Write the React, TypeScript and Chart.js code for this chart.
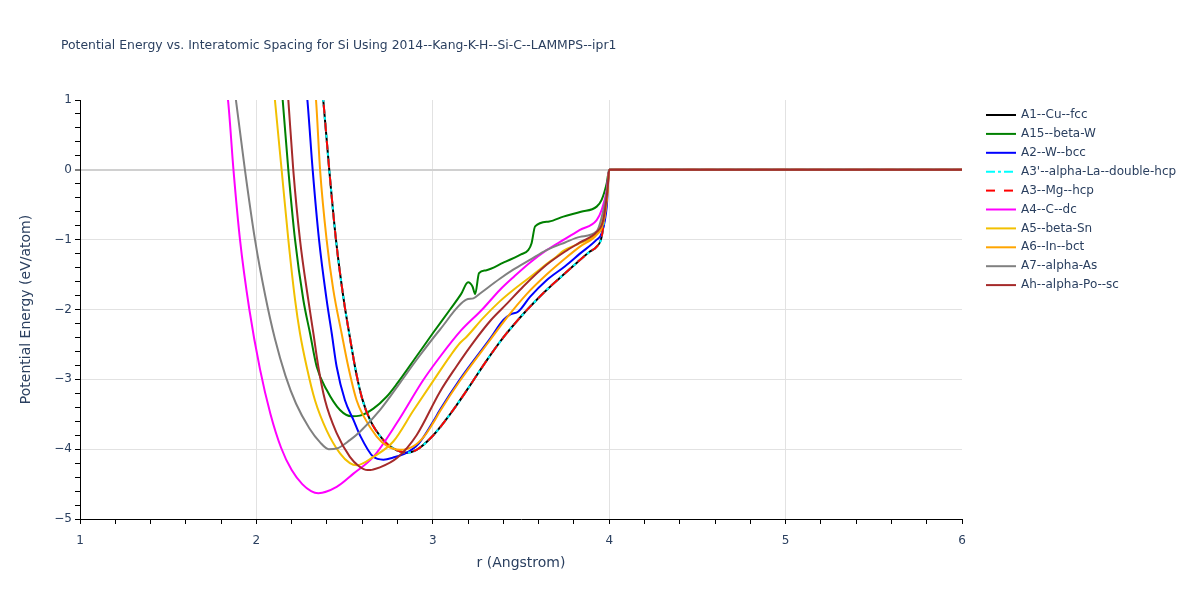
import React, { useEffect, useRef } from "react";
import { Chart, registerables } from "chart.js";

Chart.register(...registerables);

const FONT = '"DejaVu Sans", Verdana, sans-serif';
const TEXT = "#2a3f5f";

const titleText = "Potential Energy vs. Interatomic Spacing for Si Using 2014--Kang-K-H--Si-C--LAMMPS--ipr1";
const xTitle = "r (Angstrom)";
const yTitle = "Potential Energy (eV/atom)";

const seriesNames = [
  "A1--Cu--fcc",
  "A15--beta-W",
  "A2--W--bcc",
  "A3'--alpha-La--double-hcp",
  "A3--Mg--hcp",
  "A4--C--dc",
  "A5--beta-Sn",
  "A6--In--bct",
  "A7--alpha-As",
  "Ah--alpha-Po--sc",
];
const seriesColors = ["#000000", "#008000", "#0000ff", "#00ffff", "#ff0000", "#ff00ff", "#f2c000", "#ffa500", "#808080", "#a52a2a"];
const seriesDash = [[], [], [], [9, 3, 3, 3], [9, 9], [], [], [], [], []];

// close-packed structures (A1, A3', A3 coincide)
const cpR = [2.35, 2.379, 2.413, 2.451, 2.495, 2.53, 2.565, 2.6, 2.644, 2.72, 2.776, 2.852, 2.908, 3.003, 3.098, 3.2, 3.3, 3.4, 3.5, 3.57, 3.645, 3.759, 3.834, 3.891, 3.929, 3.957, 3.986, 4.0, 6.0];
const cpE = [1.7, 1.0, 0.0, -1.0, -1.86, -2.4, -2.9, -3.28, -3.58, -3.87, -3.99, -4.05, -4.01, -3.8, -3.5, -3.13, -2.75, -2.4, -2.1, -1.91, -1.72, -1.46, -1.29, -1.17, -1.1, -0.96, -0.39, 0, 0];

const a15R = [2.12, 2.149, 2.181, 2.219, 2.266, 2.304, 2.342, 2.398, 2.474, 2.54, 2.587, 2.663, 2.738, 2.795, 2.908, 3.003, 3.098, 3.16, 3.2, 3.225, 3.24, 3.262, 3.3, 3.4, 3.5, 3.541, 3.56, 3.58, 3.66, 3.74, 3.84, 3.929, 3.957, 3.986, 4.0, 6.0];
const a15E = [1.8, 1.0, 0.0, -1.0, -1.86, -2.34, -2.82, -3.15, -3.44, -3.53, -3.52, -3.42, -3.25, -3.07, -2.67, -2.33, -2.0, -1.78, -1.61, -1.67, -1.78, -1.48, -1.44, -1.33, -1.21, -1.15, -1.05, -0.81, -0.74, -0.67, -0.6, -0.527, -0.43, -0.19, 0, 0];

const a2R = [2.26, 2.289, 2.319, 2.355, 2.398, 2.427, 2.455, 2.502, 2.55, 2.587, 2.663, 2.72, 2.776, 2.852, 2.92, 3.003, 3.04, 3.154, 3.324, 3.4, 3.44, 3.485, 3.551, 3.645, 3.75, 3.834, 3.929, 3.957, 3.986, 4.0, 6.0];
const a2E = [1.7, 1.0, 0.0, -1.0, -1.86, -2.34, -2.82, -3.3, -3.58, -3.8, -4.11, -4.15, -4.12, -4.05, -3.92, -3.6, -3.44, -3.0, -2.42, -2.15, -2.07, -2.03, -1.82, -1.58, -1.38, -1.2, -1.0, -0.91, -0.53, 0, 0];

const a4R = [1.8, 1.839, 1.87, 1.907, 1.96, 2.02, 2.08, 2.14, 2.2, 2.26, 2.31, 2.351, 2.455, 2.55, 2.663, 2.795, 2.946, 3.04, 3.16, 3.28, 3.38, 3.46, 3.55, 3.645, 3.75, 3.834, 3.929, 3.957, 3.986, 4.0, 6.0];
const a4E = [1.6, 1.0, 0.0, -1.0, -2.0, -2.85, -3.5, -3.98, -4.3, -4.5, -4.6, -4.63, -4.54, -4.35, -4.11, -3.63, -3.01, -2.68, -2.3, -2.0, -1.72, -1.53, -1.33, -1.15, -0.99, -0.86, -0.72, -0.575, -0.29, 0, 0];

const a5R = [2.08, 2.105, 2.143, 2.181, 2.219, 2.247, 2.285, 2.332, 2.398, 2.474, 2.53, 2.57, 2.663, 2.776, 2.889, 3.003, 3.1, 3.154, 3.192, 3.286, 3.381, 3.456, 3.57, 3.65, 3.702, 3.74, 3.834, 3.929, 3.965, 3.99, 4.0, 6.0];
const a5E = [1.7, 1.0, 0.0, -1.0, -1.86, -2.34, -2.82, -3.3, -3.73, -4.06, -4.2, -4.23, -4.11, -3.89, -3.45, -3.02, -2.66, -2.48, -2.39, -2.12, -1.88, -1.72, -1.5, -1.34, -1.24, -1.16, -1.05, -0.91, -0.7, -0.3, 0, 0];

const a6R = [2.31, 2.338, 2.361, 2.398, 2.436, 2.483, 2.521, 2.568, 2.606, 2.682, 2.738, 2.814, 2.889, 2.95, 3.003, 3.04, 3.154, 3.324, 3.419, 3.532, 3.645, 3.75, 3.834, 3.929, 3.966, 3.99, 4.0, 6.0];
const a6E = [1.7, 1.0, 0.0, -1.0, -1.72, -2.34, -2.82, -3.3, -3.52, -3.82, -3.95, -4.01, -3.96, -3.82, -3.62, -3.46, -3.02, -2.44, -2.12, -1.78, -1.5, -1.27, -1.1, -0.93, -0.77, -0.35, 0, 0];

const a7R = [1.85, 1.884, 1.935, 1.992, 2.05, 2.105, 2.165, 2.225, 2.3, 2.36, 2.41, 2.455, 2.53, 2.587, 2.7, 2.814, 2.92, 3.04, 3.19, 3.23, 3.268, 3.38, 3.456, 3.55, 3.645, 3.75, 3.834, 3.929, 3.965, 3.99, 4.0, 6.0];
const a7E = [1.7, 1.0, 0.0, -1.0, -1.8, -2.42, -2.95, -3.35, -3.7, -3.9, -4.0, -3.99, -3.87, -3.75, -3.44, -3.05, -2.68, -2.29, -1.86, -1.84, -1.77, -1.56, -1.43, -1.29, -1.15, -1.04, -0.96, -0.88, -0.6, -0.25, 0, 0];

const ahR = [2.16, 2.181, 2.209, 2.247, 2.294, 2.323, 2.351, 2.389, 2.455, 2.53, 2.58, 2.63, 2.70, 2.80, 2.908, 3.04, 3.13, 3.23, 3.33, 3.419, 3.513, 3.645, 3.75, 3.834, 3.929, 3.966, 3.99, 4.0, 6.0];
const ahE = [1.7, 1.0, 0.0, -1.0, -1.86, -2.34, -2.82, -3.3, -3.77, -4.11, -4.24, -4.3, -4.26, -4.12, -3.8, -3.18, -2.83, -2.47, -2.15, -1.92, -1.67, -1.36, -1.17, -1.04, -0.89, -0.72, -0.29, 0, 0];

const seriesR = [cpR, a15R, a2R, cpR, cpR, a4R, a5R, a6R, a7R, ahR];
const seriesE = [cpE, a15E, a2E, cpE, cpE, a4E, a5E, a6E, a7E, ahE];

const xMin = 1, xMax = 6, yMin = -5, yMax = 1;

const isInt = (v: number) => Math.abs(v - Math.round(v)) < 1e-6;
const fmt = (v: number) => {
  const n = Math.round(v);
  return n < 0 ? "\u2212" + Math.abs(n) : String(n);
};

const decor = {
  id: "decor",
  afterDraw(chart: any) {
    const ctx = chart.ctx;
    const area = chart.chartArea;
    ctx.save();
    ctx.fillStyle = TEXT;
    ctx.textBaseline = "middle";
    ctx.font = `12.4px ${FONT}`;
    ctx.textAlign = "left";
    ctx.fillText(titleText, 61, 46);
    ctx.font = `14px ${FONT}`;
    ctx.textAlign = "center";
    ctx.fillText(xTitle, (area.left + area.right) / 2, 563);
    ctx.save();
    ctx.translate(26, (area.top + area.bottom) / 2);
    ctx.rotate(-Math.PI / 2);
    ctx.fillText(yTitle, 0, 0);
    ctx.restore();
    ctx.font = `12px ${FONT}`;
    ctx.textAlign = "left";
    seriesNames.forEach((name, i) => {
      const y = 115 + i * 18.9;
      ctx.beginPath();
      ctx.setLineDash(seriesDash[i]);
      ctx.strokeStyle = seriesColors[i];
      ctx.lineWidth = 2;
      ctx.moveTo(986, y);
      ctx.lineTo(1016, y);
      ctx.stroke();
      ctx.setLineDash([]);
      ctx.fillStyle = TEXT;
      ctx.fillText(name, 1021, y);
    });
    ctx.restore();
  },
};

export default function App() {
  const ref = useRef<HTMLCanvasElement | null>(null);
  useEffect(() => {
    document.body.style.margin = "0";
    const datasets = seriesNames.map((name, i) => ({
      label: name,
      data: seriesR[i].map((x, j) => ({ x, y: seriesE[i][j] })),
      borderColor: seriesColors[i],
      backgroundColor: seriesColors[i],
      borderWidth: 2,
      borderDash: seriesDash[i],
      pointRadius: 0,
      fill: false,
      cubicInterpolationMode: "monotone" as const,
      order: seriesNames.length - 1 - i,
      clip: 0,
    }));
    const chart = new Chart(ref.current as HTMLCanvasElement, {
      type: "line",
      data: { datasets },
      plugins: [decor],
      options: {
        animation: false,
        responsive: false,
        devicePixelRatio: 1,
        layout: { padding: { left: 0, right: 238, top: 100, bottom: 0 } },
        plugins: { legend: { display: false }, tooltip: { enabled: false }, title: { display: false } },
        scales: {
          x: {
            type: "linear",
            min: xMin,
            max: xMax,
            afterFit: (s: any) => { s.height = 81; },
            ticks: {
              stepSize: 0.2,
              autoSkip: false,
              maxRotation: 0,
              padding: 10,
              color: TEXT,
              font: { family: FONT, size: 12 },
              callback: (v: any) => (isInt(Number(v)) ? fmt(Number(v)) : ""),
            },
            grid: {
              color: (c: any) => (c.tick && isInt(c.tick.value) && c.tick.value > xMin && c.tick.value < xMax ? "#e2e2e2" : "rgba(0,0,0,0)"),
              lineWidth: 1,
              tickColor: "#000",
              tickWidth: 1,
              tickLength: 5,
            },
            border: { display: true, color: "#000", width: 1 },
          },
          y: {
            type: "linear",
            min: yMin,
            max: yMax,
            afterFit: (s: any) => { s.width = 80; },
            ticks: {
              stepSize: 0.2,
              autoSkip: false,
              padding: 3,
              color: TEXT,
              font: { family: FONT, size: 12 },
              callback: (v: any) => (isInt(Number(v)) ? fmt(Number(v)) : ""),
            },
            grid: {
              color: (c: any) => {
                if (!c.tick || !isInt(c.tick.value) || c.tick.value <= yMin || c.tick.value >= yMax) return "rgba(0,0,0,0)";
                return Math.abs(c.tick.value) < 1e-6 ? "#d0d0d0" : "#e2e2e2";
              },
              lineWidth: (c: any) => (c.tick && Math.abs(c.tick.value) < 1e-6 ? 2 : 1),
              tickColor: "#000",
              tickWidth: 1,
              tickLength: 5,
            },
            border: { display: true, color: "#000", width: 1 },
          },
        },
      },
    });
    return () => chart.destroy();
  }, []);
  return (
    <div style={{ position: "absolute", left: 0, top: 0, width: 1200, height: 600, background: "#fff" }}>
      <canvas ref={ref} width={1200} height={600} />
    </div>
  );
}
